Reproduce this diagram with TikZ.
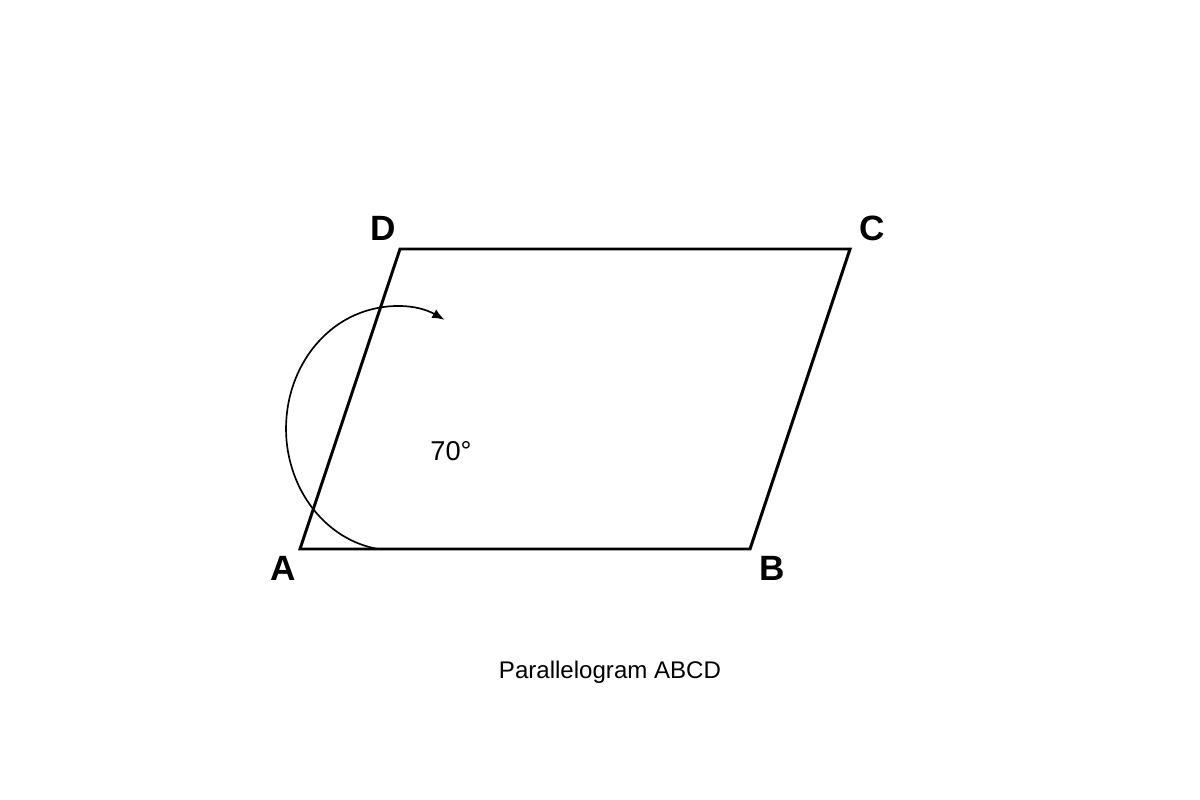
\documentclass[tikz,border=0pt]{standalone}
\usepackage{fontspec}
\setmainfont{Liberation Sans}
\usetikzlibrary{arrows.meta}
\begin{document}
\begin{tikzpicture}[x=0.02cm, y=-0.02cm]

  \tikzstyle{vertex} = [font=\fontsize{20}{20}\selectfont\bfseries, inner sep=0]
  \tikzstyle{side} = [line width=1.7pt, line join=miter]

  \useasboundingbox (0,0) rectangle (1200,800);

  \coordinate (A) at (300,549);
  \coordinate (B) at (750,549);
  \coordinate (C) at (850,249);
  \coordinate (D) at (400,249);

  \draw[side] (A) -- (B) -- (C) -- (D) -- cycle;

  \node[vertex] (LA) at (283,568) {A};
  \node[vertex] (LB) at (772,568) {B};
  \node[vertex] (LC) at (872,228) {C};
  \node[vertex] (LD) at (383,228) {D};

  % angle mark
  \coordinate (S) at (378,549);
  \draw[line width=0.95pt, -{Latex[length=7pt,width=5.5pt]}] (S) arc[start angle=99, end angle=297, x radius=109, y radius=122];
  \node[font=\fontsize{15.5}{15.5}\selectfont] (ang) at (451,451) {70°};

  \node[font=\fontsize{13.7}{13.7}\selectfont] (title) at (610,672) {Parallelogram ABCD};

\end{tikzpicture}
\end{document}
